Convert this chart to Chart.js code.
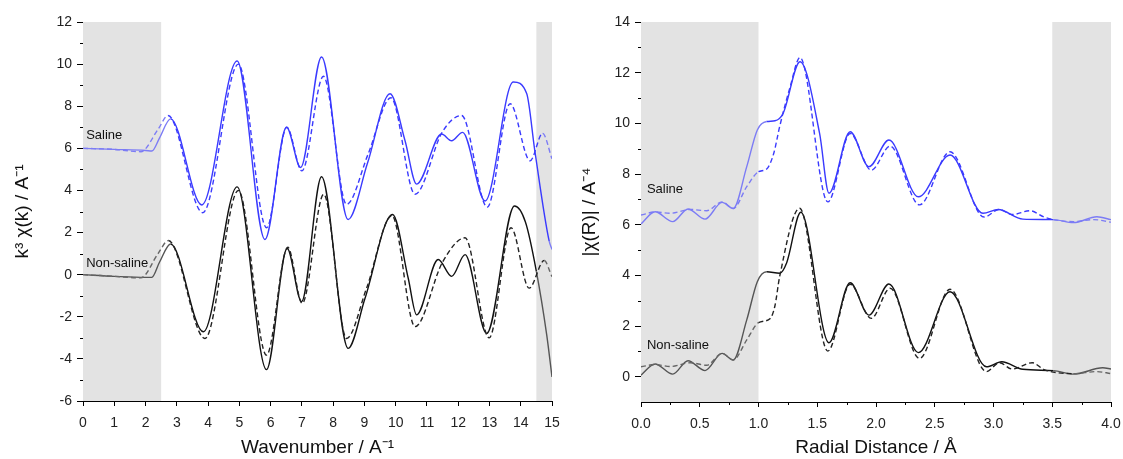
<!DOCTYPE html>
<html>
<head>
<meta charset="utf-8">
<script src="https://cdn.jsdelivr.net/npm/chart.js@4.4.1/dist/chart.umd.min.js"></script>
<style>
	body { margin: 0; background: #fff; width: 1123px; height: 459px; overflow: hidden; }
	canvas { position: absolute; top: 0; }
	#chi_k { left: 0; }
	#chi_r { left: 563px; }
</style>
</head>
<body>
<canvas id="chi_k" width="560" height="459"></canvas>
<canvas id="chi_r" width="560" height="459"></canvas>
<script>
// k-space, saline (solid = data, dashed = fit)
var kSalineX = [0, 1.0, 2.0, 2.2, 2.45, 2.8, 3.8, 4.93, 5.82, 6.51, 6.96, 7.63, 8.48, 9.1, 9.82, 10.3, 10.67, 11.47, 11.79, 12.14, 12.86, 13.76, 14.19, 14.45, 14.91, 15];
var kSalineY = [6.0, 5.95, 5.9, 5.87, 6.5, 7.4, 3.31, 10.15, 1.67, 7.0, 5.09, 10.34, 2.62, 5.3, 8.59, 6.36, 4.3, 6.68, 6.36, 6.76, 3.5, 9.15, 8.6, 5.89, 1.59, 1.2];
var kSalineFitX = [0, 1.0, 1.85, 2.4, 2.72, 3.83, 4.97, 5.87, 6.52, 7.0, 7.69, 8.43, 9.12, 9.85, 10.62, 11.5, 12.11, 12.93, 13.66, 14.3, 14.7, 15];
var kSalineFitY = [6.0, 5.95, 5.84, 6.9, 7.56, 2.94, 10.0, 2.23, 7.0, 4.93, 9.42, 3.34, 5.73, 8.4, 3.82, 6.8, 7.56, 3.21, 8.12, 5.41, 6.71, 5.5];

// k-space, non-saline
var kNonX = [0, 1.0, 2.0, 2.2, 2.45, 2.8, 3.85, 4.93, 5.87, 6.53, 6.99, 7.63, 8.48, 9.02, 9.9, 10.4, 10.67, 11.36, 11.79, 12.22, 12.91, 13.8, 14.15, 14.5, 14.83, 15];
var kNonY = [0, -0.08, -0.13, -0.13, 0.6, 1.46, -2.71, 4.17, -4.51, 1.24, -1.28, 4.65, -3.5, -1.12, 2.86, -0.16, -1.91, 0.72, -0.08, 0.95, -2.79, 3.26, 2.5, 0.16, -2.85, -4.86];
var kNonFitX = [0, 1.0, 1.85, 2.4, 2.73, 3.9, 4.97, 5.87, 6.55, 7.01, 7.7, 8.43, 9.07, 9.88, 10.62, 11.5, 12.22, 12.99, 13.69, 14.27, 14.75, 15];
var kNonFitY = [0, -0.08, -0.15, 1.0, 1.62, -3.03, 4.0, -3.82, 1.3, -1.36, 3.82, -3.03, -0.64, 2.8, -2.47, 0.6, 1.75, -3.0, 2.23, -0.64, 0.67, -0.1];

// R-space, saline
var rSalineX = [0, 0.12, 0.27, 0.40, 0.545, 0.69, 0.785, 0.90, 0.99, 1.07, 1.14, 1.21, 1.353, 1.52, 1.60, 1.78, 1.94, 2.11, 2.36, 2.63, 2.91, 3.04, 3.25, 3.51, 3.68, 3.88, 4.0];
var rSalineY = [6.03, 6.51, 6.12, 6.62, 6.22, 6.88, 6.64, 8.29, 9.74, 10.07, 10.1, 10.4, 12.43, 9.6, 7.24, 9.67, 8.29, 9.34, 7.1, 8.75, 6.45, 6.6, 6.22, 6.2, 6.08, 6.31, 6.2];
var rSalineFitX = [0, 0.12, 0.25, 0.42, 0.56, 0.69, 0.785, 0.9, 1.0, 1.07, 1.13, 1.18, 1.27, 1.353, 1.59, 1.78, 1.96, 2.12, 2.37, 2.63, 2.92, 3.05, 3.16, 3.31, 3.43, 3.51, 3.68, 3.85, 4.0];
var rSalineFitY = [6.38, 6.5, 6.45, 6.6, 6.55, 6.9, 6.64, 7.5, 8.09, 8.2, 8.82, 9.87, 11.45, 12.6, 6.9, 9.6, 8.15, 9.1, 6.78, 8.88, 6.3, 6.6, 6.4, 6.55, 6.3, 6.2, 6.12, 6.2, 6.1];

// R-space, non-saline
var rNonX = [0, 0.12, 0.27, 0.40, 0.545, 0.69, 0.785, 0.90, 0.99, 1.07, 1.18, 1.24, 1.36, 1.60, 1.78, 1.94, 2.11, 2.36, 2.63, 2.94, 3.07, 3.25, 3.51, 3.68, 3.93, 4.0];
var rNonY = [0.06, 0.5, 0.1, 0.63, 0.24, 0.92, 0.66, 2.24, 3.75, 4.14, 4.08, 4.5, 6.49, 1.34, 3.71, 2.43, 3.66, 0.95, 3.35, 0.39, 0.59, 0.29, 0.24, 0.1, 0.35, 0.3];
var rNonFitX = [0, 0.12, 0.25, 0.42, 0.56, 0.69, 0.785, 0.9, 1.0, 1.1, 1.14, 1.18, 1.35, 1.59, 1.78, 1.96, 2.12, 2.37, 2.63, 2.94, 3.05, 3.16, 3.33, 3.43, 3.68, 3.88, 4.0];
var rNonFitY = [0.39, 0.48, 0.4, 0.55, 0.45, 0.92, 0.66, 1.45, 2.13, 2.3, 2.8, 3.95, 6.65, 1.01, 3.65, 2.3, 3.49, 0.72, 3.45, 0.2, 0.55, 0.3, 0.55, 0.28, 0.12, 0.2, 0.12];

// ticks and shaded windows
var kTicksX = [0, 1, 2, 3, 4, 5, 6, 7, 8, 9, 10, 11, 12, 13, 14, 15];
var kTicksY = [-6, -4, -2, 0, 2, 4, 6, 8, 10, 12];
var kMinorY = [-5, -3, -1, 1, 3, 5, 7, 9, 11];
var rTicksX = [0, 0.5, 1.0, 1.5, 2.0, 2.5, 3.0, 3.5, 4.0];
var rMinorX = [0.25, 0.75, 1.25, 1.75, 2.25, 2.75, 3.25, 3.75];
var rTicksY = [0, 2, 4, 6, 8, 10, 12, 14];
var rMinorY = [1, 3, 5, 7, 9, 11, 13];
var kBands = [[0, 2.5], [14.5, 15]];
var rBands = [[0, 1.0], [3.5, 4.0]];

var FONT = "Arial, 'Liberation Sans', sans-serif";

function points(xs, ys) {
	return xs.map(function (x, i) { return { x: x, y: ys[i] }; });
}

function inBand(x, bands) {
	return bands.some(function (b) { return x >= b[0] && x < b[1]; });
}

function line(xs, ys, color, light, dashed, bands) {
	return {
		data: points(xs, ys),
		borderColor: color,
		borderWidth: 1.4,
		borderDash: dashed ? [5, 3] : [],
		pointRadius: 0,
		cubicInterpolationMode: 'monotone',
		segment: {
			borderColor: function (ctx) { return inBand(ctx.p0.parsed.x, bands) ? light : color; }
		}
	};
}

var bandPlugin = {
	id: 'bands',
	beforeDatasetsDraw: function (chart, args, opts) {
		var ctx = chart.ctx, area = chart.chartArea, x = chart.scales.x;
		ctx.save();
		ctx.fillStyle = '#e3e3e3';
		opts.ranges.forEach(function (r) {
			var a = x.getPixelForValue(r[0]), b = x.getPixelForValue(r[1]);
			ctx.fillRect(a, area.top, b - a, area.bottom - area.top);
		});
		ctx.restore();
	}
};

var extrasPlugin = {
	id: 'extras',
	afterDraw: function (chart, args, opts) {
		var ctx = chart.ctx, area = chart.chartArea;
		var xs = chart.scales.x, ys = chart.scales.y;
		ctx.save();
		ctx.strokeStyle = '#000';
		ctx.lineWidth = 1;
		ctx.beginPath();
		(opts.minorX || []).forEach(function (v) {
			var p = Math.round(xs.getPixelForValue(v)) + 0.5;
			ctx.moveTo(p, area.bottom);
			ctx.lineTo(p, area.bottom + 3);
		});
		(opts.minorY || []).forEach(function (v) {
			var p = Math.round(ys.getPixelForValue(v)) + 0.5;
			ctx.moveTo(area.left, p);
			ctx.lineTo(area.left - 3, p);
		});
		ctx.stroke();
		ctx.fillStyle = '#111';
		ctx.font = '13px ' + FONT;
		ctx.textBaseline = 'middle';
		(opts.labels || []).forEach(function (l) {
			ctx.fillText(l.text, xs.getPixelForValue(l.x), ys.getPixelForValue(l.y));
		});
		ctx.restore();
	}
};

function makeChart(id, cfg) {
	var ctx = document.getElementById(id).getContext('2d');
	return new Chart(ctx, {
		type: 'line',
		data: { datasets: cfg.datasets },
		options: {
			responsive: false,
			animation: false,
			layout: { padding: { left: 0, right: cfg.padRight, top: 22, bottom: 0 } },
			scales: {
				x: {
					type: 'linear',
					min: cfg.xMin, max: cfg.xMax,
					afterBuildTicks: function (s) { s.ticks = cfg.ticksX.map(function (v) { return { value: v }; }); },
					afterFit: function (s) { s.height = cfg.xHeight; s.paddingLeft = 0; s.paddingRight = 0; },
					grid: { drawOnChartArea: false, tickLength: 5, tickColor: '#000' },
					border: { color: '#000', width: 1 },
					ticks: {
						color: '#222', font: { family: FONT, size: 14 }, padding: 9, maxRotation: 0,
						callback: cfg.fmtX
					},
					title: { display: true, text: cfg.titleX, color: '#111', font: { family: FONT, size: 19 }, padding: { top: 4, bottom: 0 } }
				},
				y: {
					min: cfg.yMin, max: cfg.yMax,
					afterBuildTicks: function (s) { s.ticks = cfg.ticksY.map(function (v) { return { value: v }; }); },
					afterFit: function (s) { s.width = cfg.yWidth; s.paddingTop = 0; s.paddingBottom = 0; },
					grid: { drawOnChartArea: false, tickLength: 6, tickColor: '#000' },
					border: { color: '#000', width: 1 },
					ticks: { color: '#222', font: { family: FONT, size: 14 }, padding: 5 },
					title: { display: true, text: cfg.titleY, color: '#111', font: { family: FONT, size: 19 }, padding: { top: cfg.titlePadY, bottom: 0 } }
				}
			},
			plugins: {
				legend: { display: false },
				tooltip: { enabled: false },
				bands: { ranges: cfg.bands },
				extras: { minorX: cfg.minorX, minorY: cfg.minorY, labels: cfg.labels }
			}
		},
		plugins: [bandPlugin, extrasPlugin]
	});
}

makeChart('chi_k', {
	datasets: [
		line(kSalineFitX, kSalineFitY, '#3a3aff', '#7c7cf5', true, kBands),
		line(kSalineX, kSalineY, '#3a3aff', '#7c7cf5', false, kBands),
		line(kNonFitX, kNonFitY, '#222', '#666', true, kBands),
		line(kNonX, kNonY, '#111', '#555', false, kBands)
	],
	xMin: 0, xMax: 15, yMin: -6, yMax: 12,
	ticksX: kTicksX, ticksY: kTicksY, minorX: [], minorY: kMinorY,
	fmtX: function (v) { return String(v); },
	bands: kBands,
	padRight: 8, xHeight: 58, yWidth: 83, titlePadY: 11,
	titleX: 'Wavenumber / A\u207B\u00B9',
	titleY: 'k\u00B3 \u03C7(k) / A\u207B\u00B9',
	labels: [{ text: 'Saline', x: 0.1, y: 6.6 }, { text: 'Non-saline', x: 0.1, y: 0.55 }]
});

makeChart('chi_r', {
	datasets: [
		line(rSalineFitX, rSalineFitY, '#3a3aff', '#7c7cf5', true, rBands),
		line(rSalineX, rSalineY, '#3a3aff', '#7c7cf5', false, rBands),
		line(rNonFitX, rNonFitY, '#222', '#666', true, rBands),
		line(rNonX, rNonY, '#111', '#555', false, rBands)
	],
	xMin: 0, xMax: 4, yMin: -1, yMax: 14,
	ticksX: rTicksX, ticksY: rTicksY, minorX: rMinorX, minorY: rMinorY,
	fmtX: function (v) { return v.toFixed(1); },
	bands: rBands,
	padRight: 12, xHeight: 57, yWidth: 78, titlePadY: 15,
	titleX: 'Radial Distance / \u00C5',
	titleY: '|\u03C7(R)| / A\u207B\u2074',
	labels: [{ text: 'Saline', x: 0.05, y: 7.4 }, { text: 'Non-saline', x: 0.05, y: 1.25 }]
});
</script>
</body>
</html>
